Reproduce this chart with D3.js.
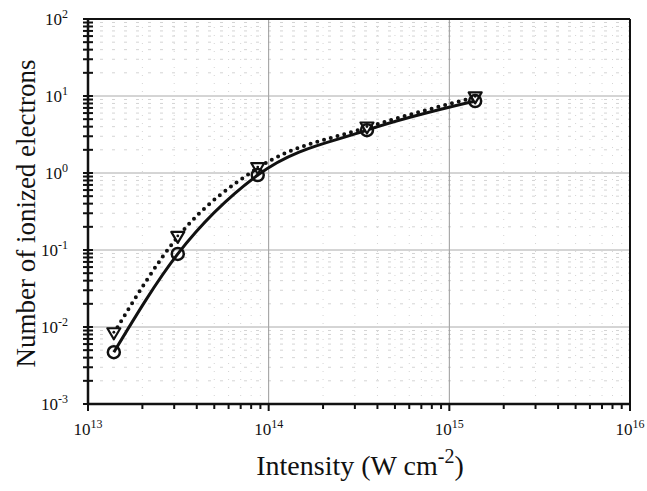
<!DOCTYPE html>
<html>
<head>
<meta charset="utf-8">
<script src="https://cdn.jsdelivr.net/npm/d3@7"></script>
<style>
  body { margin: 0; background: #fff; }
  svg { display: block; }
  text { font-family: "Liberation Serif", "DejaVu Serif", "Times New Roman", serif; fill: #111; }
</style>
</head>
<body>
<svg id="chart" width="647" height="491"></svg>
<script>
// intensity in W cm^-2
var intensity = [1.39e13, 3.14e13, 8.7e13, 3.5e14, 1.39e15];
// circles, solid line
var seriesCircle = [0.0047, 0.089, 0.94, 3.6, 8.6];
// triangles, dotted line
var seriesTriangle = [0.0083, 0.148, 1.16, 3.9, 9.6];
var xTickExps = [13, 14, 15, 16];
var yTickExps = [-3, -2, -1, 0, 1, 2];

var margin = {top: 19, right: 17, bottom: 87, left: 88},
    width = 647 - margin.left - margin.right,
    height = 491 - margin.top - margin.bottom;

var svg = d3.select("#chart");
var g = svg.append("g").attr("transform", "translate(" + margin.left + "," + margin.top + ")");

var x = d3.scaleLog().domain([1e13, 1e16]).range([0, width]);
var y = d3.scaleLog().domain([1e-3, 1e2]).range([height, 0]);

// minor values per decade
function minors(lo, hi){
  var out = [];
  for(var e = lo; e < hi; e++){
    for(var k = 2; k <= 9; k++) out.push(k * Math.pow(10, e));
  }
  return out;
}
var xMinor = minors(13, 16);
var yMinor = minors(-3, 2);

// grid
g.selectAll(".gx-minor").data(xMinor).enter().append("line")
    .attr("x1", function(d){ return x(d); }).attr("x2", function(d){ return x(d); })
    .attr("y1", 0).attr("y2", height)
    .attr("stroke", "#d4d4d4").attr("stroke-width", 1)
    .attr("stroke-dasharray", "1,7");
g.selectAll(".gy-minor").data(yMinor).enter().append("line")
    .attr("y1", function(d){ return y(d); }).attr("y2", function(d){ return y(d); })
    .attr("x1", 0).attr("x2", width)
    .attr("stroke", "#d4d4d4").attr("stroke-width", 1)
    .attr("stroke-dasharray", "3,9");
g.selectAll(".gx-major").data([14, 15]).enter().append("line")
    .attr("x1", function(d){ return x(Math.pow(10, d)); }).attr("x2", function(d){ return x(Math.pow(10, d)); })
    .attr("y1", 0).attr("y2", height)
    .attr("stroke", "#999").attr("stroke-width", 1);
g.selectAll(".gy-major").data([-2, -1, 0, 1]).enter().append("line")
    .attr("y1", function(d){ return y(Math.pow(10, d)); }).attr("y2", function(d){ return y(Math.pow(10, d)); })
    .attr("x1", 0).attr("x2", width)
    .attr("stroke", "#aaa").attr("stroke-width", 1);

// frame: top and right
g.append("line").attr("x1", 0).attr("x2", width).attr("y1", 0).attr("y2", 0)
    .attr("stroke", "#111").attr("stroke-width", 2);
g.append("line").attr("x1", width).attr("x2", width).attr("y1", 0).attr("y2", height)
    .attr("stroke", "#111").attr("stroke-width", 2);

// x axis
var xMajorVals = xTickExps.map(function(e){ return Math.pow(10, e); });
g.append("line").attr("x1", 0).attr("x2", width).attr("y1", height).attr("y2", height)
    .attr("stroke", "#111").attr("stroke-width", 2.5);
g.selectAll(".xtick").data(xMajorVals.concat(xMinor)).enter().append("line")
    .attr("x1", function(d){ return x(d); }).attr("x2", function(d){ return x(d); })
    .attr("y1", height).attr("y2", function(d){ return xMajorVals.indexOf(d) >= 0 ? height + 7 : height + 5; })
    .attr("stroke", "#111").attr("stroke-width", 2);

// y axis
var yMajorVals = yTickExps.map(function(e){ return Math.pow(10, e); });
g.append("line").attr("x1", 0).attr("x2", 0).attr("y1", 0).attr("y2", height)
    .attr("stroke", "#111").attr("stroke-width", 2.5);
g.selectAll(".ytick").data(yMajorVals.concat(yMinor)).enter().append("line")
    .attr("y1", function(d){ return y(d); }).attr("y2", function(d){ return y(d); })
    .attr("x1", -5).attr("x2", 5)
    .attr("stroke", "#111").attr("stroke-width", 2);

// tick labels with superscripts
function powLabel(sel, e){
  sel.append("tspan").text("10");
  sel.append("tspan").attr("dy", -7).attr("font-size", "12px").text(e < 0 ? "-" + (-e) : e);
}
xTickExps.forEach(function(e){
  var t = g.append("text")
      .attr("x", x(Math.pow(10, e)))
      .attr("y", height + 31)
      .attr("text-anchor", "middle")
      .attr("font-size", "17px");
  powLabel(t, e);
});
yTickExps.forEach(function(e){
  var t = g.append("text")
      .attr("x", -20)
      .attr("y", y(Math.pow(10, e)) + 6)
      .attr("text-anchor", "end")
      .attr("font-size", "17px");
  powLabel(t, e);
});

// axis titles
var xt = svg.append("text")
    .attr("x", 360).attr("y", 475)
    .attr("text-anchor", "middle")
    .attr("font-size", "28px");
xt.append("tspan").text("Intensity (W cm");
xt.append("tspan").attr("dy", -12).attr("font-size", "20px").text("-2");
xt.append("tspan").attr("dy", 12).text(")");

svg.append("text")
    .attr("transform", "translate(35," + (margin.top + height / 2 + 2) + ") rotate(-90)")
    .attr("text-anchor", "middle")
    .attr("font-size", "27px")
    .text("Number of ionized electrons");

// curves
var line = d3.line()
    .x(function(d){ return x(d[0]); })
    .y(function(d){ return y(d[1]); })
    .curve(d3.curveMonotoneX);

var circData = intensity.map(function(v, i){ return [v, seriesCircle[i]]; });
var triData = intensity.map(function(v, i){ return [v, seriesTriangle[i]]; });

g.append("path").datum(triData).attr("d", line)
    .attr("fill", "none").attr("stroke", "#111").attr("stroke-width", 4)
    .attr("stroke-linecap", "round").attr("stroke-dasharray", "0,7");

g.append("path").datum(circData).attr("d", line)
    .attr("fill", "none").attr("stroke", "#111").attr("stroke-width", 3);

// triangle markers (pointing down, with dot)
var tri = g.selectAll(".tri").data(triData).enter().append("g")
    .attr("transform", function(d){ return "translate(" + x(d[0]) + "," + y(d[1]) + ")"; });
tri.append("path")
    .attr("d", "M-6.5,-5 L6.5,-5 L0,6 Z")
    .attr("fill", "#fff").attr("stroke", "#111").attr("stroke-width", 2.2)
    .attr("stroke-linejoin", "round");
tri.append("circle").attr("cx", 0).attr("cy", -1).attr("r", 1.4).attr("fill", "#111");

// circle markers
g.selectAll(".circ").data(circData).enter().append("circle")
    .attr("cx", function(d){ return x(d[0]); })
    .attr("cy", function(d){ return y(d[1]); })
    .attr("r", 6)
    .attr("fill", "none").attr("stroke", "#111").attr("stroke-width", 2.5);
</script>
</body>
</html>
